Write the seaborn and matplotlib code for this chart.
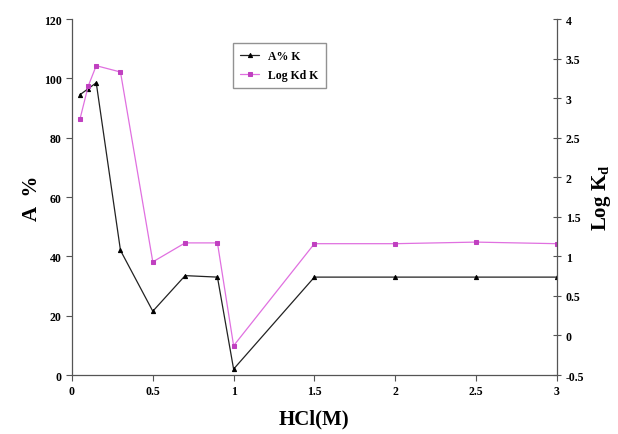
import numpy as np
import pandas as pd
import seaborn as sns
import matplotlib
matplotlib.use('Agg')
import matplotlib.pyplot as plt

# datos
hcl = [0.05, 0.1, 0.15, 0.3, 0.5, 0.7, 0.9, 1.0, 1.5, 2.0, 2.5, 3.0]
a_pct = [94.5, 96.5, 98.5, 42, 21.5, 33.5, 33, 2, 33, 33, 33, 33]
log_kd = [2.74, 3.15, 3.41, 3.33, 0.93, 1.17, 1.17, -0.13, 1.16, 1.16, 1.18, 1.16]

sns.set_style('white')
plt.rcParams['font.family'] = ['Liberation Serif', 'DejaVu Serif']
plt.rcParams['mathtext.fontset'] = 'custom'
plt.rcParams['mathtext.rm'] = 'Liberation Serif'
plt.rcParams['mathtext.bf'] = 'Liberation Serif:bold'
plt.rcParams['text.color'] = 'black'

df = pd.DataFrame({'HCl': hcl, 'A': a_pct, 'LogKd': log_kd})

fig = plt.figure(figsize=(6.18, 4.35), dpi=100)
ax1 = fig.add_axes([0.1165, 0.1356, 0.7845, 0.8184])
ax2 = ax1.twinx()

sns.lineplot(data=df, x='HCl', y='A', ax=ax1, color='#222222', lw=0.9,
             marker='^', markersize=3, markeredgecolor='black', markerfacecolor='black',
             label='A% K', legend=False)
sns.lineplot(data=df, x='HCl', y='LogKd', ax=ax2, color='#e070e0', lw=0.9,
             marker='s', markersize=2.8, markeredgecolor='#c040c0', markerfacecolor='#c040c0',
             label='Log Kd K', legend=False)

ax1.set_xlim(0, 3); ax1.set_ylim(0, 120)
ax2.set_ylim(-0.5, 4)
ax1.set_xticks([0, 0.5, 1, 1.5, 2, 2.5, 3])
ax1.set_xticklabels(['0', '0.5', '1', '1.5', '2', '2.5', '3'])
ax1.set_yticks(np.arange(0, 121, 20))
ax2.set_yticks(np.arange(-0.5, 4.01, 0.5))
ax2.set_yticklabels(['-0.5', '0', '0.5', '1', '1.5', '2', '2.5', '3', '3.5', '4'])

for ax in (ax1, ax2):
    ax.spines['top'].set_visible(False)
    for s in ax.spines.values():
        s.set_color('#555555'); s.set_linewidth(0.9)
ax1.spines['right'].set_visible(False)
ax2.spines['left'].set_visible(False)
ax2.spines['bottom'].set_visible(False)

ax1.tick_params(axis='both', direction='out', length=4, width=0.8, color='#555555',
                labelsize=8.5, labelcolor='black', left=True, bottom=True)
ax2.tick_params(axis='y', direction='inout', length=6, width=0.8, color='#555555',
                labelsize=8.5, labelcolor='black', right=True)
for lab in ax1.get_xticklabels() + ax1.get_yticklabels() + ax2.get_yticklabels():
    lab.set_fontweight('bold')

ax1.set_xlabel('HCl(M)', fontsize=15, fontweight='bold', labelpad=8, color='black')
ax1.set_ylabel('A  %', fontsize=15, fontweight='bold', labelpad=1, color='black')
ax2.set_ylabel(r'Log K$_\mathbf{d}$', fontsize=15, fontweight='bold', labelpad=4, color='black')

h1, l1 = ax1.get_legend_handles_labels()
h2, l2 = ax2.get_legend_handles_labels()
leg = ax1.legend(h1 + h2, l1 + l2, loc='upper left', bbox_to_anchor=(0.32, 0.95),
                 fontsize=8.5, frameon=True, fancybox=False, edgecolor='#777777',
                 handlelength=1.6, borderpad=0.6, labelspacing=0.6)
for t in leg.get_texts():
    t.set_fontweight('bold')

fig.savefig('out.png', dpi=100)
